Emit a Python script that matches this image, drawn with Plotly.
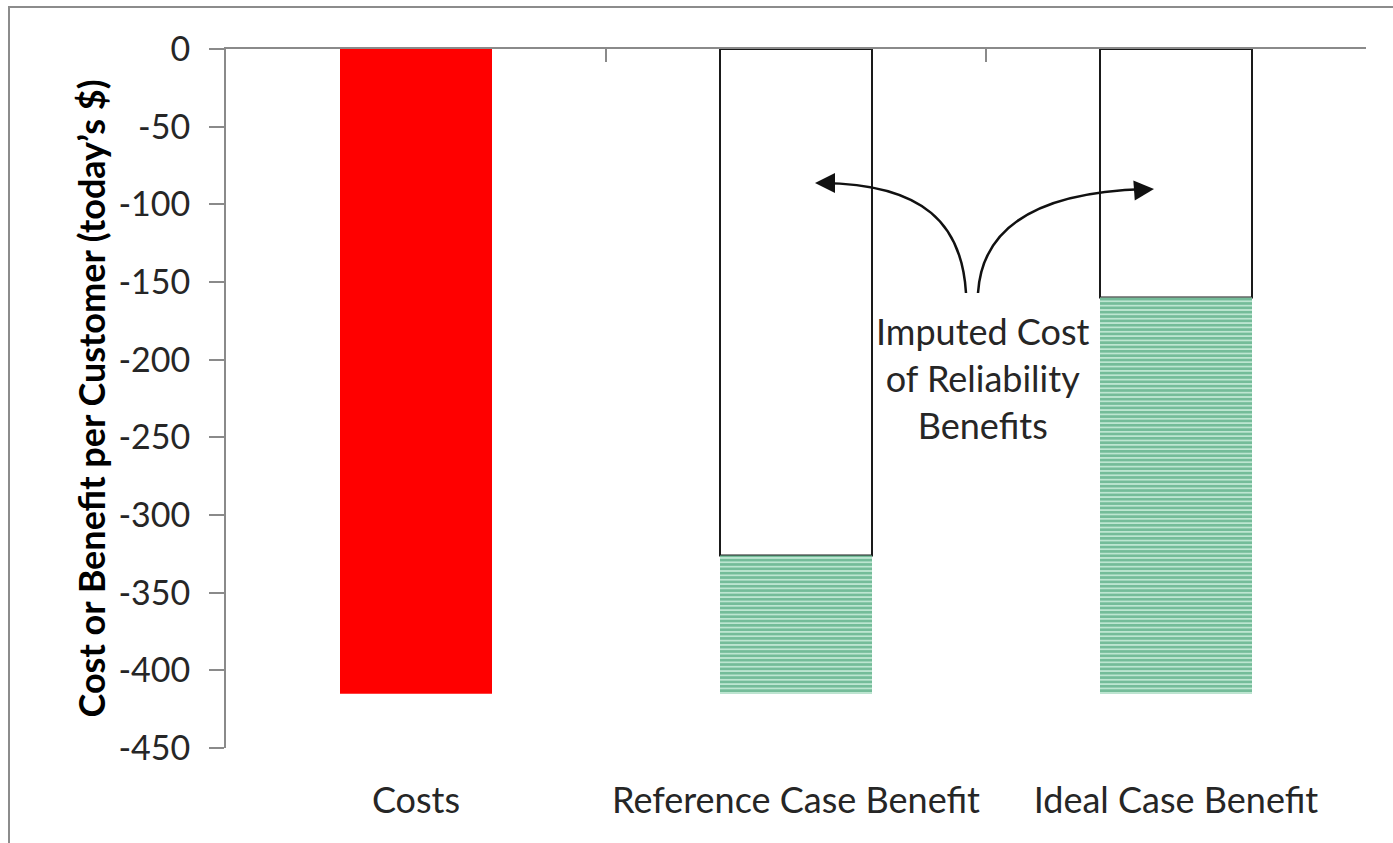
import plotly.graph_objects as go

# ---- data ----
categories = ["Costs", "Reference Case Benefit", "Ideal Case Benefit"]
costs = [-415, None, None]
benefit_total = [None, -415, -415]
imputed_reliability = [None, -326, -160]
y_ticks = [0, -50, -100, -150, -200, -250, -300, -350, -400, -450]
y_tick_labels = [str(v) for v in y_ticks]

green_part = [None if (t is None or i is None) else t - i
              for t, i in zip(benefit_total, imputed_reliability)]

# ---- layout constants (pixels) ----
W, H = 1393, 843
L, R, T, B = 226, 1366, 49, 748
FONT = "Lato"
TXT = "#262626"
AX = "#8a8a8a"


def px(x):
    return (x - L) / (R - L)


def py(y):
    return (B - y) / (B - T)


fig = go.Figure()
fig.add_trace(go.Bar(x=categories, y=costs, marker=dict(color="#ff0000", line=dict(width=0)),
                     showlegend=False, hoverinfo="skip"))
fig.add_trace(go.Bar(x=categories, y=imputed_reliability,
                     marker=dict(color="white", line=dict(color="#1a1a1a", width=2)),
                     showlegend=False, hoverinfo="skip"))
fig.add_trace(go.Bar(x=categories, y=green_part,
                     marker=dict(color="#b8e2cc", line=dict(width=0),
                                 pattern=dict(shape="-", fgcolor="#2c9262", bgcolor="#bde6d1",
                                              size=4.35, solidity=0.6)),
                     showlegend=False, hoverinfo="skip"))
# invisible trace for top axis
fig.add_trace(go.Scatter(x=categories, y=[None] * 3, xaxis="x2", showlegend=False,
                         hoverinfo="skip", mode="markers"))

fig.update_layout(
    width=W, height=H,
    margin=dict(l=L, r=W - R, t=T, b=H - B),
    paper_bgcolor="white", plot_bgcolor="white",
    barmode="relative", bargap=0.6,
    font=dict(family=FONT, color=TXT, size=34),
    xaxis=dict(type="category", range=[-0.5, 2.5], showline=False, ticks="",
               showgrid=False, zeroline=False, ticklabelstandoff=28,
               tickfont=dict(family=FONT, size=36, color=TXT)),
    xaxis2=dict(type="category", overlaying="x", side="top", anchor="y", range=[-0.5, 2.5],
                showline=True, linecolor=AX, linewidth=2, ticks="inside", ticklen=13,
                tickcolor=AX, tickwidth=2, tickson="boundaries", showticklabels=False,
                showgrid=False, zeroline=False),
    yaxis=dict(range=[-450, 0], tickvals=y_ticks, ticktext=y_tick_labels,
               showline=True, linecolor=AX, linewidth=2,
               ticks="outside", ticklen=15, tickcolor=AX, tickwidth=2, showgrid=False,
               zeroline=False, ticklabelstandoff=12,
               tickfont=dict(family=FONT, size=34, color=TXT),
               title=dict(text="<b>Cost or Benefit per Customer (today\u2019s $)</b>",
                          font=dict(family=FONT, size=36, color="black"), standoff=2)),
)

shapes = [
    # outer frame
    dict(type="rect", xref="paper", yref="paper", x0=px(9), x1=px(1420), y0=py(7), y1=py(870),
         line=dict(color="#8c8c8c", width=2), fillcolor="rgba(0,0,0,0)", layer="below"),
    # curved arrows
    dict(type="path", xref="paper", yref="paper",
         path=f"M {px(966)},{py(293)} C {px(962)},{py(225)} {px(925)},{py(184)} {px(822)},{py(183)}",
         line=dict(color="#111", width=2.5)),
    dict(type="path", xref="paper", yref="paper",
         path=f"M {px(978)},{py(293)} C {px(982)},{py(228)} {px(1035)},{py(192)} {px(1146)},{py(189)}",
         line=dict(color="#111", width=2.5)),
]
fig.update_layout(shapes=shapes)

fig.add_annotation(xref="paper", yref="paper", x=px(815), y=py(183), ax=14, ay=0,
                   text="", showarrow=True, arrowhead=2, arrowsize=1.6, arrowwidth=2.5,
                   arrowcolor="#111")
fig.add_annotation(xref="paper", yref="paper", x=px(1154), y=py(189), ax=-14, ay=1,
                   text="", showarrow=True, arrowhead=2, arrowsize=1.6, arrowwidth=2.5,
                   arrowcolor="#111")
fig.add_annotation(xref="paper", yref="paper", x=px(983), y=py(378),
                   text="Imputed Cost<br>of Reliability<br>Benefits", showarrow=False,
                   font=dict(family=FONT, size=36, color=TXT), align="center",
                   xanchor="center", yanchor="middle", bgcolor="rgba(0,0,0,0)")

fig.write_html("out.html")
